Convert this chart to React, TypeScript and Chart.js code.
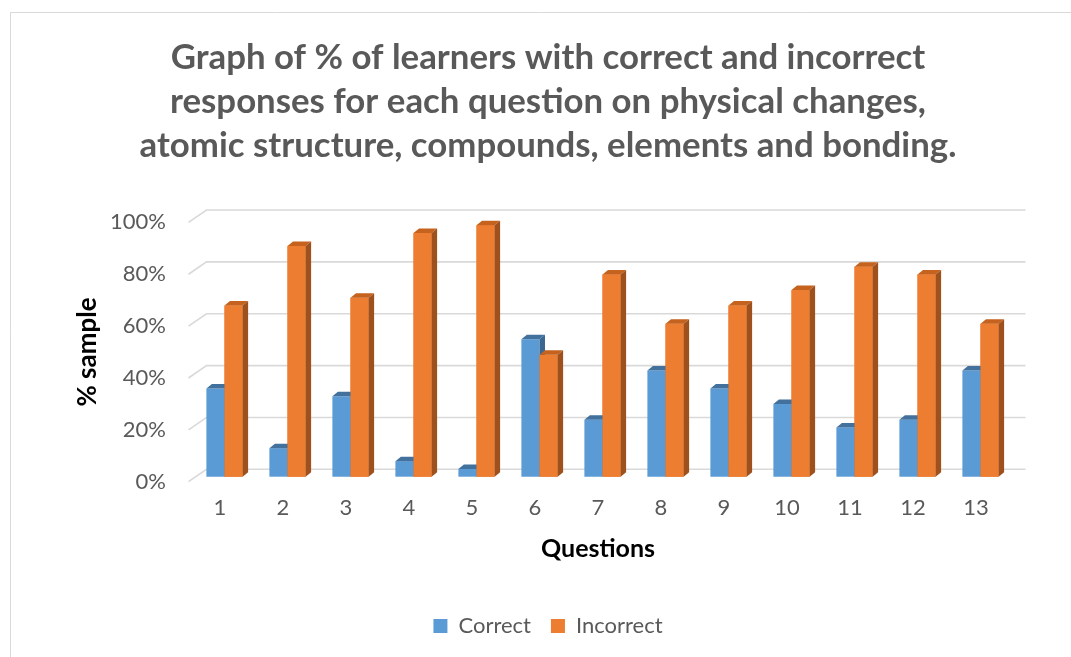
import React, { useEffect, useRef } from 'react';
import { Chart, registerables } from 'chart.js';

Chart.register(...registerables);

const categories = ['1', '2', '3', '4', '5', '6', '7', '8', '9', '10', '11', '12', '13'];
const correctValues = [34, 11, 31, 6, 3, 53, 22, 41, 34, 28, 19, 22, 41];
const incorrectValues = [66, 89, 69, 94, 97, 47, 78, 59, 66, 72, 81, 78, 59];
const seriesNames = ['Correct', 'Incorrect'];
const yTickValues = [0, 20, 40, 60, 80, 100];
const titleLines = [
  'Graph of % of learners with correct and incorrect',
  'responses for each question on physical changes,',
  'atomic structure, compounds, elements and bonding.',
];
const xAxisTitle = 'Questions';
const yAxisTitle = '% sample';

const BLUE = '#5B9BD5';
const BLUE_TOP = '#41719C';
const BLUE_SIDE = '#3A6790';
const ORANGE = '#ED7D31';
const ORANGE_TOP = '#C5621E';
const ORANGE_SIDE = '#9E511C';
const GRID = '#d9d9d9';
const TEXT = '#595959';
const FONT = 'Lato, "Open Sans", sans-serif';

// depth offsets
const WALL_DX = 18;
const WALL_DY = -12.4;
const BAR_DX = 4.5;
const BAR_DY = -5;
const FACE_DX = 5.5;
const FACE_DY = -4.5;

function drawFaces(ctx: CanvasRenderingContext2D, el: any, top: string, side: string) {
  const { x, y, base, width } = el.getProps(['x', 'y', 'base', 'width'], true);
  const l = x - width / 2;
  const r = x + width / 2;
  ctx.fillStyle = top;
  ctx.beginPath();
  ctx.moveTo(l, y);
  ctx.lineTo(l + FACE_DX, y + FACE_DY);
  ctx.lineTo(r + FACE_DX, y + FACE_DY);
  ctx.lineTo(r, y);
  ctx.closePath();
  ctx.fill();
  ctx.fillStyle = side;
  ctx.beginPath();
  ctx.moveTo(r, y);
  ctx.lineTo(r + FACE_DX, y + FACE_DY);
  ctx.lineTo(r + FACE_DX, base + FACE_DY);
  ctx.lineTo(r, base);
  ctx.closePath();
  ctx.fill();
}

const framePlugin = {
  id: 'frame',
  beforeDraw(chart: any) {
    const { ctx, width, height } = chart;
    ctx.save();
    ctx.fillStyle = '#ffffff';
    ctx.fillRect(0, 0, width, height);
    ctx.strokeStyle = '#d9d9d9';
    ctx.lineWidth = 1;
    ctx.beginPath();
    ctx.moveTo(10.5, height);
    ctx.lineTo(10.5, 12.5);
    ctx.lineTo(width, 12.5);
    ctx.stroke();
    ctx.restore();
  },
};

const depthPlugin = {
  id: 'depth3d',
  beforeDatasetsDraw(chart: any) {
    const { ctx, chartArea } = chart;
    const yScale = chart.scales.y;
    ctx.save();
    ctx.strokeStyle = GRID;
    ctx.lineWidth = 1.6;
    yScale.ticks.forEach((t: any) => {
      const py = yScale.getPixelForValue(t.value);
      ctx.beginPath();
      ctx.moveTo(chartArea.left, py);
      ctx.lineTo(chartArea.left + WALL_DX, py + WALL_DY);
      ctx.lineTo(chartArea.right + WALL_DX, py + WALL_DY);
      ctx.stroke();
    });
    ctx.restore();
    ctx.save();
    ctx.translate(BAR_DX, BAR_DY);
  },
  afterDatasetsDraw(chart: any) {
    const ctx = chart.ctx;
    const blue = chart.getDatasetMeta(0).data;
    const orange = chart.getDatasetMeta(1).data;
    for (let j = 0; j < blue.length; j++) {
      drawFaces(ctx, blue[j], BLUE_TOP, BLUE_SIDE);
      const o = orange[j].getProps(['x', 'y', 'base', 'width'], true);
      ctx.fillStyle = ORANGE;
      ctx.fillRect(o.x - o.width / 2, o.y, o.width, o.base - o.y);
      drawFaces(ctx, orange[j], ORANGE_TOP, ORANGE_SIDE);
    }
    ctx.restore();
  },
};

export default function App() {
  const canvasRef = useRef<HTMLCanvasElement | null>(null);

  useEffect(() => {
    if (!canvasRef.current) return;
    const chart = new Chart(canvasRef.current, {
      type: 'bar',
      data: {
        labels: categories,
        datasets: [
          {
            label: seriesNames[0],
            data: correctValues,
            backgroundColor: BLUE,
            borderWidth: 0,
            barPercentage: 1,
            categoryPercentage: 0.575,
            clip: false,
          } as any,
          {
            label: seriesNames[1],
            data: incorrectValues,
            backgroundColor: ORANGE,
            borderWidth: 0,
            barPercentage: 1,
            categoryPercentage: 0.575,
            clip: false,
          } as any,
        ],
      },
      options: {
        responsive: false,
        animation: false,
        events: [],
        layout: { padding: { left: 25, right: 0, top: 0, bottom: 10 } },
        plugins: {
          title: {
            display: true,
            text: titleLines,
            color: TEXT,
            font: { family: FONT, size: 34.8, weight: 'bold', lineHeight: 44 / 34.8 },
            padding: { top: 36, bottom: 54.4 },
          },
          legend: {
            display: true,
            position: 'bottom',
            labels: {
              boxWidth: 14,
              boxHeight: 14,
              color: TEXT,
              padding: 20,
              font: { family: FONT, size: 22 },
              sort: (a: any, b: any) => a.datasetIndex - b.datasetIndex,
            },
          },
          tooltip: { enabled: false },
        },
        scales: {
          x: {
            type: 'category',
            grid: { display: false, drawTicks: false, tickLength: 0 },
            border: { display: false },
            ticks: { color: TEXT, font: { family: FONT, size: 22 }, padding: 13, maxRotation: 0 },
            title: {
              display: true,
              text: xAxisTitle,
              color: '#000000',
              font: { family: FONT, size: 25, weight: 'bold' },
              padding: { top: 0, bottom: 30.6 },
            },
            afterFit: (s: any) => {
              s.height = 113.3;
            },
          },
          y: {
            type: 'linear',
            min: 0,
            max: 100,
            grid: { display: false, drawTicks: false, tickLength: 0 },
            border: { display: false },
            afterBuildTicks: (s: any) => {
              s.ticks = yTickValues.map((v) => ({ value: v }));
            },
            ticks: {
              color: TEXT,
              font: { family: FONT, size: 22 },
              padding: 22.5,
              callback: (v: any) => v + '%',
            },
            title: {
              display: true,
              text: yAxisTitle,
              color: '#000000',
              font: { family: FONT, size: 26, weight: 'bold' },
              padding: { top: 47.4, bottom: 0 },
            },
            afterFit: (s: any) => {
              s.width = 163.5;
            },
          },
          yRight: {
            type: 'linear',
            position: 'right',
            display: true,
            grid: { display: false, drawTicks: false },
            border: { display: false },
            ticks: { display: false },
            afterFit: (s: any) => {
              s.width = 63.5;
            },
          },
        },
      },
      plugins: [framePlugin, depthPlugin],
    } as any);
    return () => chart.destroy();
  }, []);

  return (
    <div style={{ position: 'fixed', left: 0, top: 0, width: 1071, height: 657, background: '#fff' }}>
      <canvas ref={canvasRef} width={1071} height={657} style={{ display: 'block' }} />
    </div>
  );
}
